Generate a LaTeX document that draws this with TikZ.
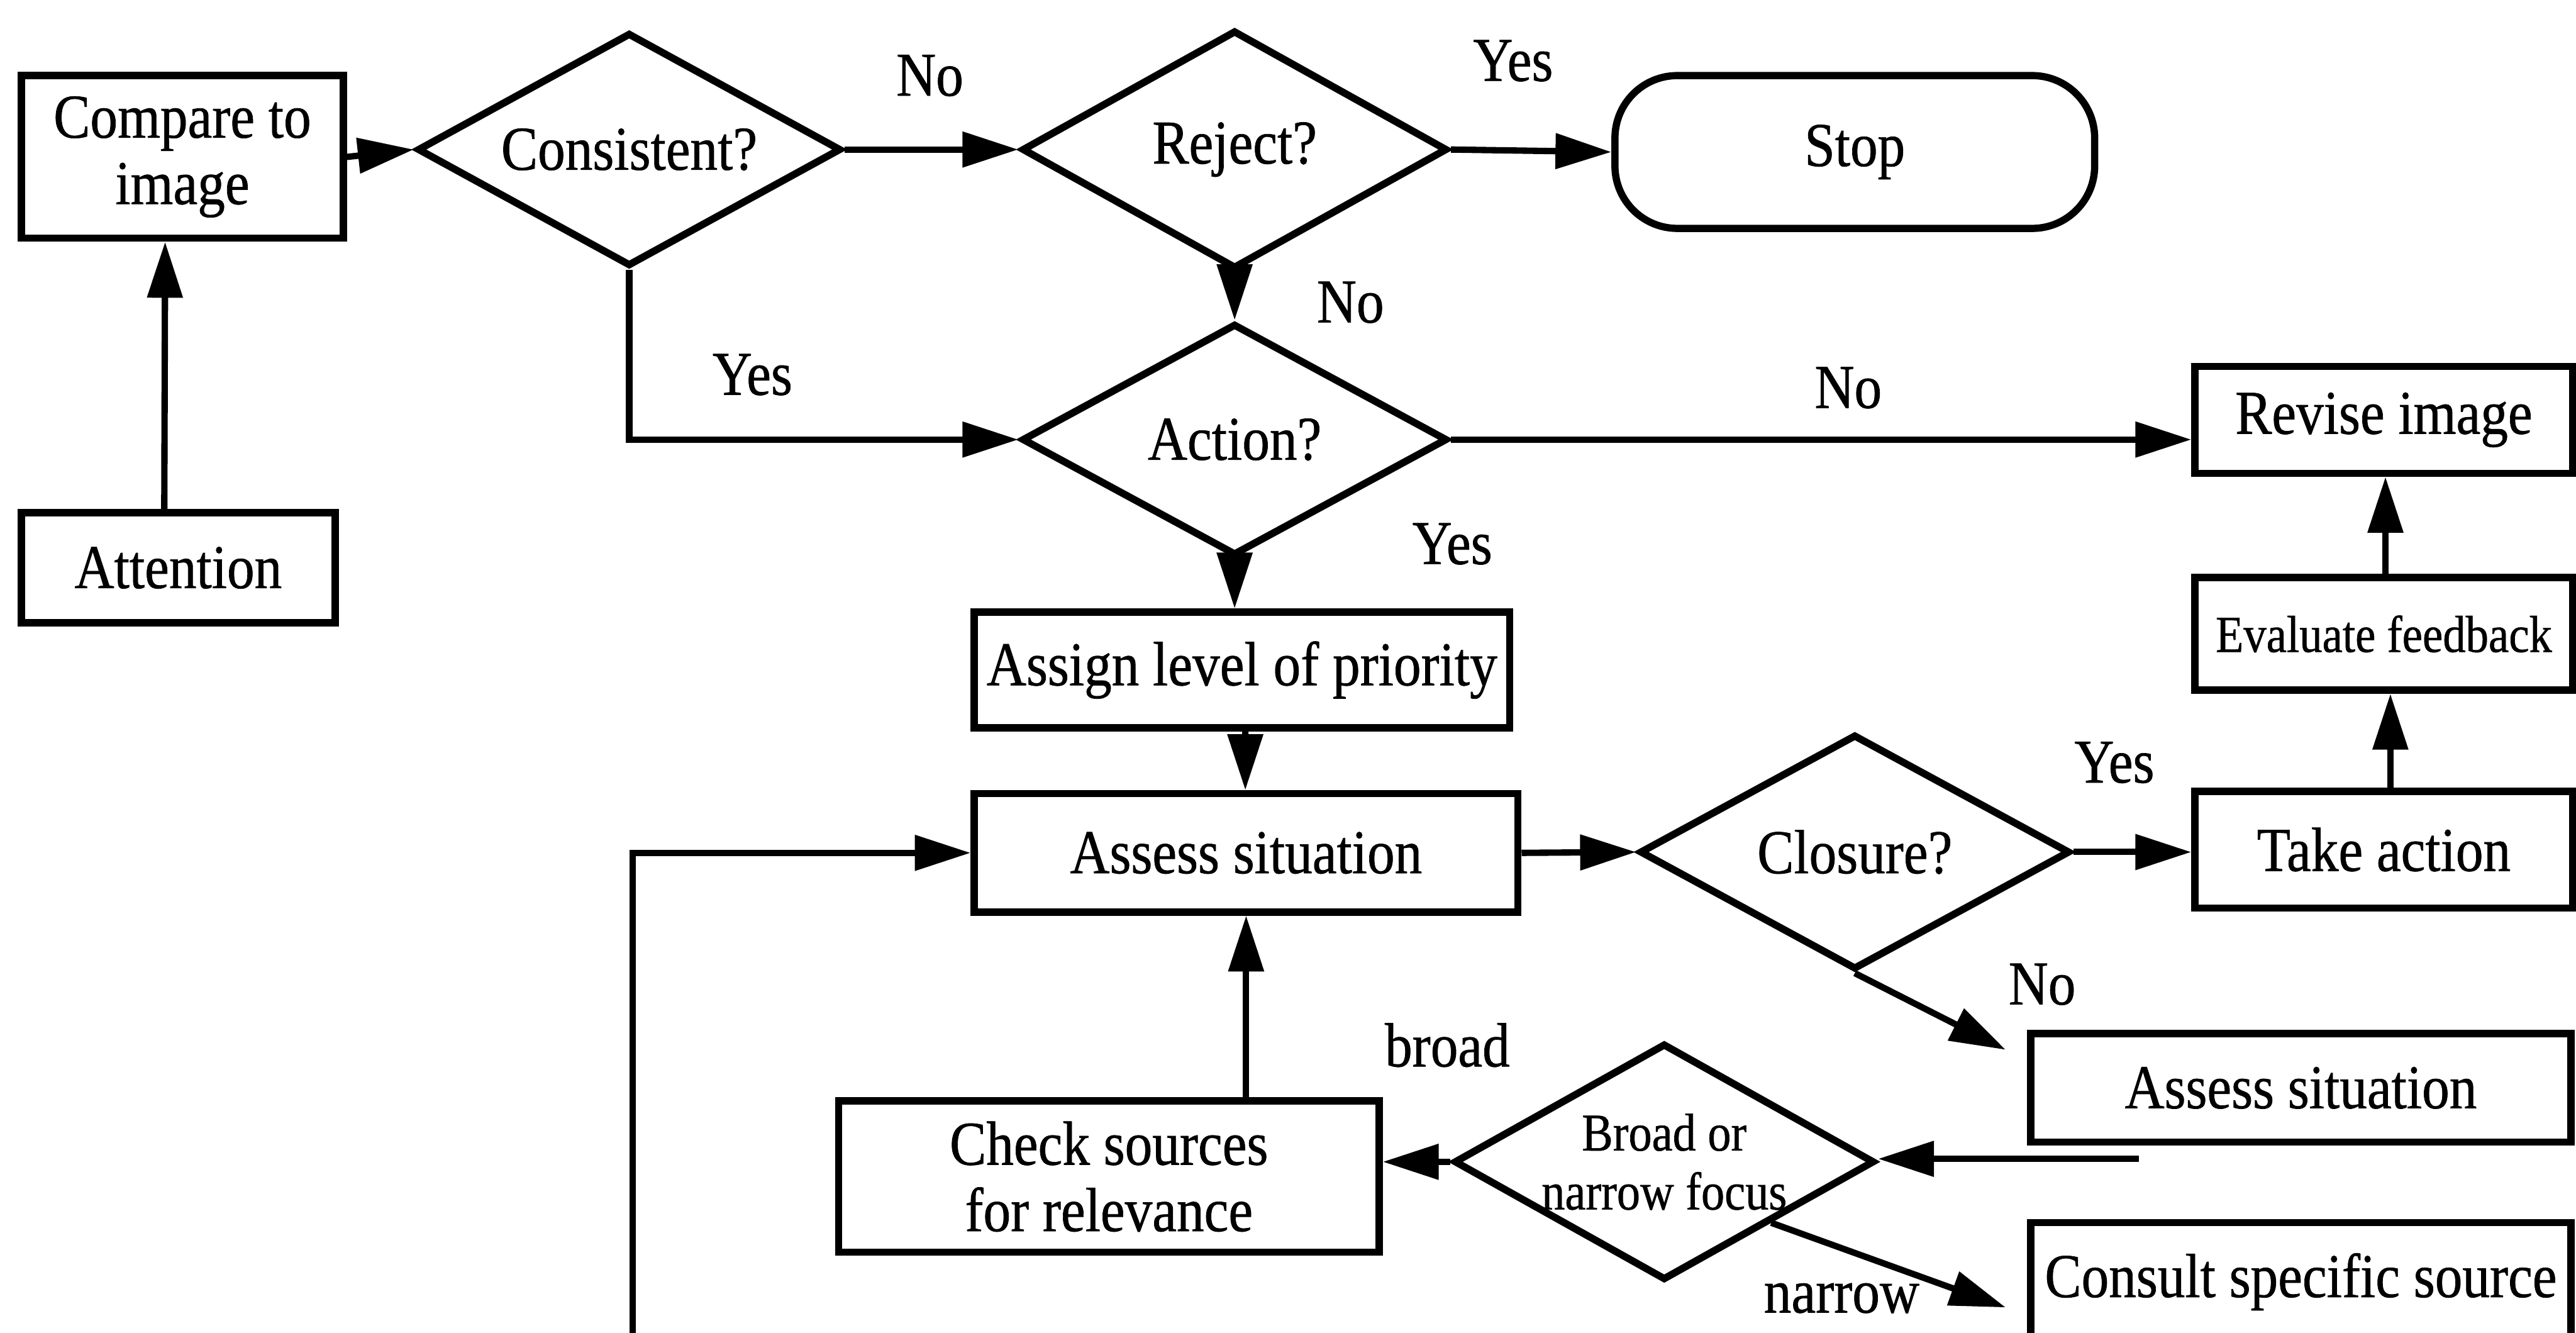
\documentclass[tikz,border=0pt]{standalone}
\usepackage{fontspec}
\setmainfont{Liberation Serif}[FakeStretch=0.88, FakeBold=0.7]
\usetikzlibrary{arrows.meta,shapes.geometric}

\begin{document}
\begin{tikzpicture}[
    every node/.style={font=\fontsize{10.8}{11.5}\selectfont},
    box/.style={draw, line width=1.25pt, inner sep=0pt, align=center},
    decision/.style={draw, line width=1.25pt, diamond, inner sep=0pt},
    terminal/.style={draw, line width=1.25pt, rounded corners=0.38cm, inner sep=0pt},
    arr/.style={line width=1.1pt, -{Triangle[length=3.4mm, width=2.1mm]}},
    lbl/.style={inner sep=0pt}
  ]
  \useasboundingbox (0,0) rectangle (15.68,8.11);
  \clip (0,0) rectangle (15.68,8.11);

  % process boxes
  \node[box, minimum width=1.96cm, minimum height=0.99cm] (compare) at (1.11,7.155) {Compare to\\image};
  \node[box, minimum width=1.91cm, minimum height=0.67cm] (attention) at (1.085,4.655) {Attention};
  \node[terminal, minimum width=2.92cm, minimum height=0.93cm] (stop) at (11.29,7.185) {Stop};
  \node[box, minimum width=2.30cm, minimum height=0.65cm] (revise) at (14.51,5.555) {Revise image};
  \node[box, minimum width=2.30cm, minimum height=0.685cm, font=\fontsize{9.0}{10}\selectfont] (evaluate) at (14.51,4.2525) {Evaluate feedback};
  \node[box, minimum width=2.30cm, minimum height=0.71cm] (takeaction) at (14.51,2.94) {Take action};
  \node[box, minimum width=3.26cm, minimum height=0.705cm] (assign) at (7.56,4.0325) {Assign level of priority};
  \node[box, minimum width=3.31cm, minimum height=0.72cm] (assess) at (7.585,2.92) {Assess situation};
  \node[box, minimum width=3.29cm, minimum height=0.92cm] (check) at (6.75,0.95) {Check sources\\for relevance};
  \node[box, minimum width=3.29cm, minimum height=0.66cm] (assess2) at (14.005,1.49) {Assess situation};
  \node[box, minimum width=3.29cm, minimum height=0.72cm] (consult) at (14.005,0.31) {Consult specific source};

  % decisions
  \node[decision, minimum width=2.58cm, minimum height=1.42cm, label=center:{Consistent?}] (cons) at (3.83,7.20) {};
  \node[decision, minimum width=2.59cm, minimum height=1.45cm, label=center:{Reject?}] (reject) at (7.515,7.20) {};
  \node[decision, minimum width=2.59cm, minimum height=1.41cm, label=center:{Action?}] (action) at (7.515,5.435) {};
  \node[decision, minimum width=2.62cm, minimum height=1.43cm, label=center:{Closure?}] (closure) at (11.29,2.925) {};
  \node[decision, minimum width=2.56cm, minimum height=1.44cm,
        label={[align=center, font=\fontsize{9.2}{10.2}\selectfont]center:Broad or\\narrow focus}] (broad) at (10.13,1.04) {};

  % branch labels
  \node[lbl] (lNoA) at (5.66,7.65) {No};
  \node[lbl] (lYesA) at (9.21,7.74) {Yes};
  \node[lbl] (lNoB) at (8.22,6.27) {No};
  \node[lbl] (lYesB) at (4.58,5.83) {Yes};
  \node[lbl] (lNoC) at (11.25,5.75) {No};
  \node[lbl] (lYesC) at (8.84,4.80) {Yes};
  \node[lbl] (lYesD) at (12.87,3.47) {Yes};
  \node[lbl] (lNoD) at (12.43,2.12) {No};
  \node[lbl] (lBroad) at (8.81,1.75) {broad};
  \node[lbl] (lNarrow) at (11.21,0.21) {narrow};

  % free ends
  \coordinate (loopstart) at (3.85,-0.2);
  \coordinate (noend) at ([xshift=-0.13cm, yshift=-0.12cm]assess2.north west);
  \coordinate (feedstart) at ([xshift=0.68cm, yshift=-0.08cm]assess2.south west);
  \coordinate (narrowend) at ([xshift=-0.13cm, yshift=-0.156cm]consult.west);

  % connectors
  \draw[arr] ([xshift=-0.085cm]attention.north) -- ([xshift=-0.105cm]compare.south);
  \draw[arr] (compare.east) -- (cons.west);
  \draw[arr] (cons.east) -- (reject.west);
  \draw[arr] (reject.east) -- (stop.west);
  \draw[arr] (reject.south) -- (action.north);
  \draw[arr] (cons.south) |- (action.west);
  \draw[arr] (action.east) -- (action.east -| revise.west);
  \draw[arr] (action.south) -- (action.south |- assign.north);
  \draw[arr] ([xshift=0.02cm]assign.south) -- ([xshift=-0.005cm]assess.north);
  \draw[arr] (assess.east) -- (closure.west);
  \draw[arr] (closure.east) -- (closure.east -| takeaction.west);
  \draw[arr] ([xshift=0.04cm]takeaction.north) -- ([xshift=0.04cm]evaluate.south);
  \draw[arr] ([xshift=0.01cm]evaluate.north) -- ([xshift=0.01cm]revise.south);
  \draw[arr] (closure.south) -- (noend);
  \draw[arr] (feedstart) -- (feedstart -| broad.east);
  \draw[arr] (broad.west) -- (broad.west -| check.east);
  \draw[arr] (check.north -| assess.south) -- (assess.south);
  \draw[arr] (broad.south east) -- (narrowend);
  \draw[arr] (loopstart) |- (assess.west);
\end{tikzpicture}
\end{document}
